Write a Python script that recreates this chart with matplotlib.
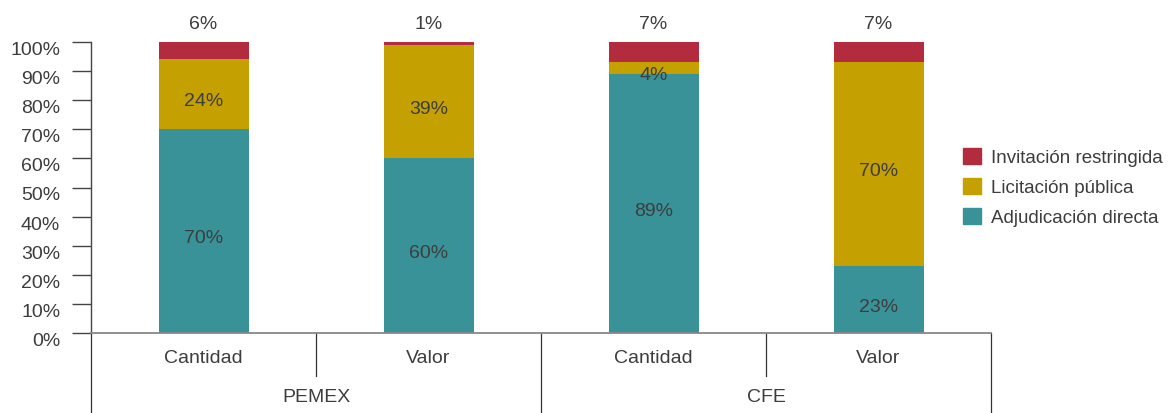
import matplotlib
matplotlib.use("Agg")
import matplotlib.pyplot as plt
from matplotlib.transforms import blended_transform_factory, ScaledTranslation
from matplotlib.patches import Patch
import numpy as np

groups = ["PEMEX", "CFE"]
subcats = ["Cantidad", "Valor", "Cantidad", "Valor"]
adjudicacion = [70, 60, 89, 23]
licitacion = [24, 39, 4, 70]
invitacion = [6, 1, 7, 7]
series_names = ["Adjudicación directa", "Licitación pública", "Invitación restringida"]
colors = ["#3A9299", "#C4A100", "#B22B3E"]
yticks = list(range(0, 101, 10))

plt.rcParams['font.family'] = ['Liberation Sans', 'DejaVu Sans']
txt = "#3d3d3d"
fs = 14

fig = plt.figure(figsize=(11.71, 4.14), dpi=100)
ax = fig.add_axes([91/1171, 1-334/414, 900/1171, 291/414])

down = ScaledTranslation(0, -6.5/100, fig.dpi_scale_trans)

x = np.arange(len(subcats))
w = 0.4
ax.bar(x, adjudicacion, w, color=colors[0])
ax.bar(x, licitacion, w, bottom=adjudicacion, color=colors[1])
bot3 = [a + b for a, b in zip(adjudicacion, licitacion)]
ax.bar(x, invitacion, w, bottom=bot3, color=colors[2])

for i in range(len(x)):
    ax.text(x[i], adjudicacion[i] / 2, f"{adjudicacion[i]}%", ha="center", va="center",
            fontsize=fs, color=txt, transform=ax.transData + down)
    ax.text(x[i], adjudicacion[i] + licitacion[i] / 2, f"{licitacion[i]}%", ha="center", va="center",
            fontsize=fs, color=txt, transform=ax.transData + down)
    ax.text(x[i], 106.5, f"{invitacion[i]}%", ha="center", va="center", fontsize=fs, color=txt, clip_on=False)

ax.set_xlim(-0.5, 3.5)
ax.set_ylim(0, 100)
ax.set_yticks(yticks)
ax.set_yticklabels([f"{t}%" for t in yticks], fontsize=fs, color=txt)
ax.tick_params(axis="y", length=13.7, width=1.0, color="#444444", pad=8.5)
for lab in ax.get_yticklabels():
    lab.set_transform(lab.get_transform() + ScaledTranslation(0, -5.5/100, fig.dpi_scale_trans))
ax.set_xticks([])
for s in ["top", "right"]:
    ax.spines[s].set_visible(False)
ax.spines["left"].set_color("#444444")
ax.spines["left"].set_linewidth(1.0)
ax.spines["bottom"].set_color("#888888")
ax.spines["bottom"].set_linewidth(1.3)

# multi-level category axis
tr = blended_transform_factory(ax.transData, fig.transFigure)
y0 = 1 - 334/414
y_short = 1 - 377/414
y_long = 0.0
for xs, ylow in [(-0.5, y_long), (0.5, y_short), (1.5, y_long), (2.5, y_short), (3.5, y_long)]:
    ax.plot([xs, xs], [y0, ylow], transform=tr, color="#333333", lw=0.9, clip_on=False)
for i, lab in enumerate(subcats):
    ax.text(x[i], 1 - 359/414, lab, transform=tr, ha="center", va="center", fontsize=fs, color=txt)
for g, lab in enumerate(groups):
    ax.text(0.5 + 2 * g, 1 - 398/414, lab, transform=tr, ha="center", va="center", fontsize=fs, color=txt)

handles = [Patch(color=colors[i]) for i in [2, 1, 0]]
labels = [series_names[i] for i in [2, 1, 0]]
fig.legend(handles, labels, loc="center left", bbox_to_anchor=(946/1171, 1 - 188/414),
           frameon=False, fontsize=13.5, handlelength=0.95, handleheight=0.95,
           handletextpad=0.55, labelspacing=0.62, labelcolor=txt)

fig.savefig("out.png", dpi=100)
